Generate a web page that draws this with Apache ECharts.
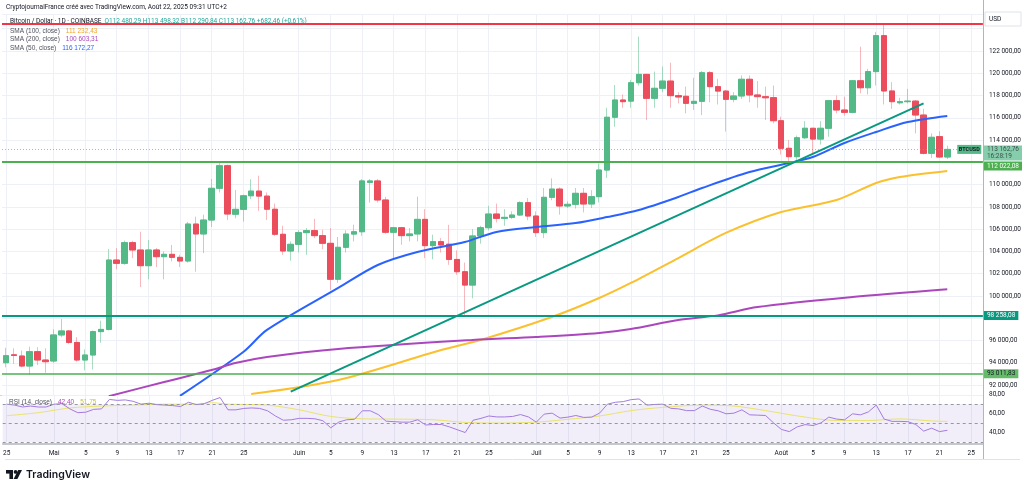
<!DOCTYPE html>
<html><head><meta charset="utf-8">
<script src="https://cdn.jsdelivr.net/npm/echarts@6/dist/echarts.min.js"></script>
<style>html,body{margin:0;padding:0;background:#fff}#c{width:1024px;height:491px}</style>
</head><body><div id="c"></div>
<script>
const dates = ['04-25','04-26','04-27','04-28','04-29','04-30',
'05-01','05-02','05-03','05-04','05-05','05-06','05-07','05-08','05-09','05-10','05-11','05-12','05-13','05-14','05-15','05-16','05-17','05-18','05-19','05-20','05-21','05-22','05-23','05-24','05-25','05-26','05-27','05-28','05-29','05-30','05-31',
'06-01','06-02','06-03','06-04','06-05','06-06','06-07','06-08','06-09','06-10','06-11','06-12','06-13','06-14','06-15','06-16','06-17','06-18','06-19','06-20','06-21','06-22','06-23','06-24','06-25','06-26','06-27','06-28','06-29','06-30',
'07-01','07-02','07-03','07-04','07-05','07-06','07-07','07-08','07-09','07-10','07-11','07-12','07-13','07-14','07-15','07-16','07-17','07-18','07-19','07-20','07-21','07-22','07-23','07-24','07-25','07-26','07-27','07-28','07-29','07-30','07-31',
'08-01','08-02','08-03','08-04','08-05','08-06','08-07','08-08','08-09','08-10','08-11','08-12','08-13','08-14','08-15','08-16','08-17','08-18','08-19','08-20','08-21','08-22','08-23','08-24','08-25','08-26'];

const open = [94010,94720,94610,93710,95000,94250,94160,96500,96860,95830,
94250,94700,96800,97000,103230,102930,104790,104130,102720,104130,
103530,103740,103470,103140,106460,105570,106820,109670,111700,107340,
107780,109000,109420,108970,107790,105540,104040,104640,105690,105870,
105420,104730,101500,104370,105560,105770,110200,110330,108620,105720,
106130,105420,105570,106880,104520,104880,104650,103280,102180,100980,
105390,106130,107360,106970,107060,107270,108380,107180,105690,108860,
109600,108080,108230,109220,108260,108920,111310,116050,117600,117500,
119150,119900,117750,118650,119300,117990,117930,117300,117480,120050,
118800,118400,117660,117960,119460,118050,117900,117810,115740,113260,
112510,114210,115060,114090,115060,117540,116700,116490,119330,118700,
120150,123380,118410,117350,117450,117500,116250,112810,114310,112480.29];
const high = [95350,95300,95100,95450,95400,95300,97000,97930,96950,96300,
95200,96900,97780,104220,104300,104970,104950,105770,105030,104300,
104000,104580,103700,106650,107120,107300,110500,111950,111800,109520,
109100,110480,110800,109300,108300,106300,104900,105900,106100,106930,
105950,106100,105300,105900,106400,110500,110500,110500,108900,106200,
106200,106100,108920,107800,105500,105200,106390,104100,103000,106000,
106300,108100,108300,107800,107600,108500,108800,107600,109700,110560,
109750,108500,109700,109700,109500,111900,116900,118950,118100,119400,
123290,119950,120150,120600,120950,118300,118800,119600,120200,120200,
119500,118500,118300,119800,119800,119300,118800,118900,116100,114000,
114400,115700,115100,115700,117600,118000,117900,119400,122390,120400,
123700,124480,119200,117800,118600,117600,116800,114600,114800,113498.32];
const low = [93600,93900,93600,92900,93800,93100,94000,96300,95700,94100,
93330,93400,95800,96900,102400,102800,103400,100800,101500,102600,
101500,103100,102600,103000,102180,103850,106200,109300,106830,106980,
106680,108700,107640,106820,105400,103700,103170,103900,103700,105200,
104200,100540,101190,103900,104900,105400,108400,108400,105600,103230,
104600,104900,104900,103400,103300,103900,102800,101900,98290,99790,
104700,105900,106600,106300,106900,107200,106800,105300,105200,108600,
107300,107900,107850,107500,107900,108400,110600,115200,116900,116900,
118900,115800,116900,118300,116900,117300,116400,116700,116250,117400,
117200,114760,117400,117700,117400,116900,115800,115500,112700,112000,
111950,114100,112700,113600,114300,116400,116200,116400,118200,118100,
118900,117200,116800,117200,117300,114600,112700,112400,112400,112290.84];
const close = [94640,94660,93710,95000,94250,94100,96500,96860,95830,94250,
94700,96800,97000,103230,102930,104790,104130,102720,104130,103530,
103740,103470,103140,106460,105570,106820,109670,111700,107360,107780,
109000,109420,108970,107790,105540,104040,104640,105690,105870,105420,
104730,101500,104370,105560,105770,110330,110330,108620,105720,106130,
105420,105570,106880,104520,104880,104580,103280,102180,100980,105390,
106130,107360,106970,107060,107270,108380,107180,105690,108860,109600,
108080,108230,109220,108260,108920,111310,116050,117600,117450,119150,
119900,117750,118650,119300,117990,117870,117300,117480,120050,118800,
118400,117660,117960,119460,118050,117900,117800,115740,113260,112510,
114210,115060,114090,115060,117540,116700,116490,119330,118700,120150,
123380,118410,117450,117450,117500,116250,112810,114250,112480.30,113162.76];

const sma50 = [['05-17',91030],['05-25',94970],['05-28',96950],['06-06',100720],['06-11',102780],['06-16',103950],['06-22',104850],['06-26',105750],['07-01',106200],['07-06',106550],['07-10',107090],['07-14',107720],['07-19',108890],['07-22',109700],['07-28',111130],['08-02',111940],['08-05',112480],['08-09',113740],['08-13',114730],['08-17',115620],['08-22',116172.27]];
const sma100 = [['05-26',91200],['06-06',92460],['06-19',95150],['06-24',96050],['07-03',98110],['07-09',99820],['07-13',101170],['07-19',103410],['07-25',105660],['08-01',107540],['08-08',108620],['08-13',110150],['08-16',110690],['08-22',111232.43]];
const sma200 = [['05-08',91000],['05-15',92280],['05-21',93350],['05-24',93980],['05-28',94520],['06-06',95240],['06-23',96050],['07-01',96320],['07-09',96680],['07-13',97040],['07-19',97840],['07-24',98258],['07-29',99010],['08-10',99910],['08-22',100603.31]];

const rsi = [70,69,67,68,67,67,70,70.5,65,61,
61.5,64.5,65,75,74,74.5,73,70,71,69.5,
69,68.5,67.5,72,69.5,70.5,74,77,64,64,
65.5,66,65.5,63,57.5,53,53.5,55,55,54.5,
52.5,45,51,53.5,54,63,63,59,52,51.5,
51,51,53.5,48,48.5,48.5,46,43,40,53,
55,57.5,56.5,56.5,57,59,56.5,51,59.5,60.5,
55.3,56.3,58,56,56.3,60.5,70,72,72.7,74.8,
75.5,69,69.7,70,65.6,65,63.2,63.2,68,64.6,
63,59.8,60.5,64,58.7,58.4,58,50.3,43.3,41,
46,48.4,47.4,50.2,56.3,54.2,53.5,59.8,58.7,61.8,
69,54.2,51.8,51.8,51.5,48.5,41.5,44.6,41,42.4];
const rsiMa = [['04-25',57.8],['04-29',61],['05-03',66],['05-07',68],['05-11',69],['05-15',70],['05-19',70],['05-21',71.5],['05-23',70],['05-28',69],['06-01',64],['06-05',57],['06-09',54.5],['06-13',54.2],['06-18',53.5],['06-22',50.7],['06-26',50],['07-01',51],['07-05',54],['07-09',57.5],['07-13',63.2],['07-17',66.6],['07-22',69],['07-26',68],['07-30',63.2],['08-03',57.6],['08-08',52.7],['08-12',52.7],['08-16',54.4],['08-20',52.3],['08-22',51.75]];

const levels = [124480, 112022.08, 98258.08, 93011.83];
const trend = [['05-31', 91406], ['08-19', 117295]];
const priceTicksShown = [92000,94000,96000,100000,102000,104000,106000,108000,110000,114000,116000,118000,120000,122000];
const rsiTicksShown = [40,60,80];
const monthNames = {'05':'Mai','06':'Juin','07':'Juil','08':'Août'};
const labelDays = [1,5,9,13,17,21,25];

function fr(v){ const s = Math.abs(v).toFixed(2).split('.'); return s[0].replace(/\B(?=(\d{3})+(?!\d))/g,' ') + ',' + s[1]; }
function showDay(i, v){ return labelDays.indexOf(parseInt(v.slice(3),10)) >= 0; }
function dayLabel(v){ const d = parseInt(v.slice(3),10); return d === 1 ? monthNames[v.slice(0,2)] : String(d); }

const n = close.length, last = n - 1;
const wickData = open.map((o,i)=>[o, close[i], low[i], high[i]]);
const bodyData = open.map((o,i)=>[o, close[i], Math.min(o,close[i]), Math.max(o,close[i])]);
const chg = close[last] - close[last-1];
const pct = (chg / close[last-1] * 100).toFixed(2).replace('.', ',');

const UP = '#53b987', DN = '#eb4d5c', GRID = '#edf0f7', TXT = '#131722';
const FONT = 'Roboto';
const FS = 6.5;

const chart = echarts.init(document.getElementById('c'), null, {renderer:'canvas'});
const lvlLabel = (bg, fg, dy) => ({show:true, position:'end', distance:1, offset:[0, dy||0], formatter:(p)=>fr(p.value), backgroundColor:bg, color:fg, padding:[1,3], fontSize:FS, fontFamily:FONT});

chart.setOption({
  animation:false,
  backgroundColor:'#fff',
  textStyle:{fontFamily:FONT},
  grid:[
    {left:2, right:41, top:14, height:381},
    {left:2, right:41, top:394.7, height:49.2}
  ],
  xAxis:[
    {type:'category', gridIndex:0, data:dates, boundaryGap:true,
     axisLine:{show:false}, axisTick:{show:false}, axisLabel:{show:false},
     splitLine:{show:true, interval:showDay, alignWithLabel:true, lineStyle:{color:GRID, width:1}}},
    {type:'category', gridIndex:1, data:dates, boundaryGap:true,
     axisLine:{show:true, lineStyle:{color:'#b2b5be', width:1.5}}, axisTick:{show:false},
     axisLabel:{show:true, interval:showDay, formatter:dayLabel, fontSize:FS, color:TXT, margin:6, fontFamily:FONT},
     splitLine:{show:true, interval:showDay, alignWithLabel:true, lineStyle:{color:GRID, width:1}}}
  ],
  yAxis:[
    {type:'value', gridIndex:0, position:'right', min:91109, max:125322, splitNumber:17, scale:true,
     axisLine:{show:false}, axisTick:{show:false},
     axisLabel:{formatter:(v)=> (priceTicksShown.indexOf(Math.round(v))>=0 ? fr(v) : ''), fontSize:FS, color:TXT, margin:6, fontFamily:FONT},
     splitLine:{show:true, lineStyle:{color:GRID, width:1}}},
    {type:'value', gridIndex:1, position:'right', min:28, max:80, splitNumber:5,
     axisLine:{show:false}, axisTick:{show:false},
     axisLabel:{formatter:(v)=> (rsiTicksShown.indexOf(Math.round(v))>=0 ? fr(v) : ''), fontSize:FS, color:TXT, margin:6, fontFamily:FONT},
     splitLine:{show:false}}
  ],
  series:[
    {type:'candlestick', name:'wick', xAxisIndex:0, yAxisIndex:0, data:wickData, barWidth:6, z:2,
     itemStyle:{color:'rgba(0,0,0,0)', color0:'rgba(0,0,0,0)', borderColor:'rgba(83,185,135,0.5)', borderColor0:'rgba(235,77,92,0.4)', borderWidth:1},
     markLine:{silent:true, symbol:'none', animation:false,
       data:[
         {yAxis:close[last], lineStyle:{color:UP, width:1, type:[1,2], opacity:0.7},
          label:{show:true, position:'end', distance:1, offset:[0,3.5], backgroundColor:UP, color:TXT, padding:[0,3], fontSize:FS, lineHeight:7.5, fontFamily:FONT,
                 formatter:()=> fr(close[last]) + '\n16:28:19'}},
         {yAxis:levels[0], lineStyle:{color:'#f23645', width:2, type:'solid'}, label:{show:false}},
         {yAxis:levels[1], lineStyle:{color:'#4caf50', width:2, type:'solid'}, label:lvlLabel('#4caf50','#fff', 4)},
         {yAxis:levels[2], lineStyle:{color:'#089981', width:2, type:'solid'}, label:lvlLabel('#089981','#fff', 0)},
         {yAxis:levels[3], lineStyle:{color:'#4caf50', width:1.5, type:'solid'}, label:lvlLabel('#66bb6a','#131722', 0)},
         [{coord:trend[0], lineStyle:{color:'#089981', width:2, type:'solid'}, label:{show:false}}, {coord:trend[1]}]
       ]}
    },
    {type:'candlestick', name:'body', xAxisIndex:0, yAxisIndex:0, data:bodyData, barWidth:6, z:3,
     itemStyle:{color:UP, color0:DN, borderColor:UP, borderColor0:DN, borderWidth:1},
     markPoint:{silent:true, animation:false, data:[{coord:[dates[last], close[last]], symbol:'rect', symbolSize:[24,9], symbolOffset:[22,0],
        itemStyle:{color:UP}, label:{show:true, position:'inside', formatter:'BTCUSD', color:TXT, fontSize:5.5, fontWeight:'bold', fontFamily:FONT}}]}
    },
    {type:'line', name:'SMA50', xAxisIndex:0, yAxisIndex:0, data:sma50, showSymbol:false, symbol:'none', smooth:0.3, z:4,
     lineStyle:{color:'#2962ff', width:2}},
    {type:'line', name:'SMA100', xAxisIndex:0, yAxisIndex:0, data:sma100, showSymbol:false, symbol:'none', smooth:0.3, z:4,
     lineStyle:{color:'#fbc02d', width:2}},
    {type:'line', name:'SMA200', xAxisIndex:0, yAxisIndex:0, data:sma200, showSymbol:false, symbol:'none', smooth:0.3, z:4,
     lineStyle:{color:'#ab47bc', width:2}},
    {type:'line', name:'RSI', xAxisIndex:1, yAxisIndex:1, data:rsi, showSymbol:false, symbol:'none', z:4,
     lineStyle:{color:'#a37be0', width:1},
     markArea:{silent:true, itemStyle:{color:'rgba(126,87,194,0.10)'}, data:[[{yAxis:30},{yAxis:70}]]},
     markLine:{silent:true, symbol:'none', label:{show:false}, lineStyle:{color:'#9598a1', type:[3,3], width:1},
       data:[{yAxis:70},{yAxis:50},{yAxis:30}]}
    },
    {type:'line', name:'RSI MA', xAxisIndex:1, yAxisIndex:1, data:rsiMa, showSymbol:false, symbol:'none', smooth:0.3, z:3,
     lineStyle:{color:'#e9e36e', width:1}}
  ],
  graphic:[
    {type:'line', z:0, shape:{x1:983.5, y1:0, x2:983.5, y2:459}, style:{stroke:'#b2b5be', lineWidth:1}},
    {type:'line', z:0, shape:{x1:0, y1:395.5, x2:983, y2:395.5}, style:{stroke:'#d1d4dc', lineWidth:1}},
    {type:'line', z:0, shape:{x1:5, y1:459.5, x2:1020, y2:459.5}, style:{stroke:'#e0e3eb', lineWidth:1}},
    {type:'rect', z:10, shape:{x:985, y:12, width:36, height:14}, style:{fill:'#fff', stroke:'#e0e3eb', lineWidth:1}},
    {type:'text', z:11, style:{x:989, y:19, text:'USD', fontSize:FS, fill:TXT, fontFamily:FONT, verticalAlign:'middle'}},
    {type:'text', z:20, style:{x:6, y:7, text:'CryptojournalFrance créé avec TradingView.com, Août 22, 2025 09:31 UTC+2', fontSize:FS, fill:TXT, fontFamily:FONT, verticalAlign:'middle'}},
    {type:'text', z:20, style:{x:10, y:21, fontFamily:FONT, verticalAlign:'middle',
      text:'{a|Bitcoin / Dollar · 1D · COINBASE} {g|O' + fr(open[last]) + ' H' + fr(high[last]) + ' B' + fr(low[last]) + ' C' + fr(close[last]) + ' ' + (chg>=0?'+':'-') + fr(chg) + ' (' + (chg>=0?'+':'-') + pct + '%)}',
      rich:{a:{fontSize:FS, fill:TXT, fontFamily:FONT}, g:{fontSize:FS, fill:'#26a69a', fontFamily:FONT}}}},
    {type:'text', z:20, style:{x:10, y:31, fontFamily:FONT, verticalAlign:'middle',
      text:'{a|SMA (100, close)}  {v|' + fr(sma100[sma100.length-1][1]) + '}', rich:{a:{fontSize:FS, fill:'#50535e'}, v:{fontSize:FS, fill:'#f5a623'}}}},
    {type:'text', z:20, style:{x:10, y:39.5, fontFamily:FONT, verticalAlign:'middle',
      text:'{a|SMA (200, close)}  {v|' + fr(sma200[sma200.length-1][1]) + '}', rich:{a:{fontSize:FS, fill:'#50535e'}, v:{fontSize:FS, fill:'#ab47bc'}}}},
    {type:'text', z:20, style:{x:10, y:48, fontFamily:FONT, verticalAlign:'middle',
      text:'{a|SMA (50, close)}  {v|' + fr(sma50[sma50.length-1][1]) + '}', rich:{a:{fontSize:FS, fill:'#50535e'}, v:{fontSize:FS, fill:'#2962ff'}}}},
    {type:'text', z:20, style:{x:9, y:402, fontFamily:FONT, verticalAlign:'middle',
      text:'{a|RSI (14, close)}  {p|' + fr(rsi[last]) + '}  {y|' + fr(rsiMa[rsiMa.length-1][1]) + '}', rich:{a:{fontSize:FS, fill:'#50535e'}, p:{fontSize:FS, fill:'#ab47bc'}, y:{fontSize:FS, fill:'#c9c23a'}}}},
    {type:'group', z:20, children:[
      {type:'rect', shape:{x:6, y:470, width:7, height:3.6}, style:{fill:TXT}},
      {type:'rect', shape:{x:9.4, y:470, width:3.6, height:9}, style:{fill:TXT}},
      {type:'circle', shape:{cx:15.6, cy:471.9, r:1.9}, style:{fill:TXT}},
      {type:'polygon', shape:{points:[[18.2,470],[22,470],[17.4,479],[13.6,479]]}, style:{fill:TXT}}
    ]},
    {type:'text', z:20, style:{x:26, y:475, text:'TradingView', fontSize:10.5, fontWeight:600, fill:TXT, fontFamily:'Inter', verticalAlign:'middle'}}
  ]
});
</script>
</body></html>
